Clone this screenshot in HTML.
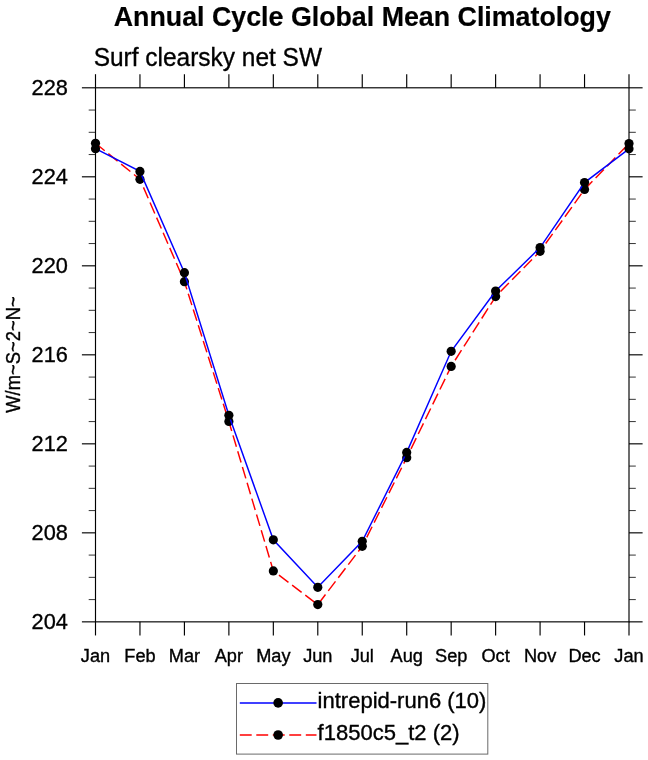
<!DOCTYPE html>
<html><head><meta charset="utf-8"><title>Annual Cycle Global Mean Climatology</title>
<style>html,body{margin:0;padding:0;background:#fff;}body{width:648px;height:760px;overflow:hidden;}svg{display:block;will-change:transform;}text{font-family:"Liberation Sans",sans-serif;fill:#000;}</style></head><body>
<svg width="648" height="760" viewBox="0 0 648 760">
<rect x="0" y="0" width="648" height="760" fill="#ffffff"/>
<text transform="translate(362.30,25.80) scale(0.9570,1)" text-anchor="middle" font-size="28.00" font-weight="bold" stroke="#000" stroke-width="0.2">Annual Cycle Global Mean Climatology</text>
<text transform="translate(93.70,65.90) scale(0.9520,1)" text-anchor="start" font-size="25.70" stroke="#000" stroke-width="0.35">Surf clearsky net SW</text>
<text transform="translate(19.70,354.60) rotate(-90) scale(0.9380,1)" text-anchor="middle" font-size="19.60" stroke="#000" stroke-width="0.35">W/m~S~2~N~</text>
<polyline points="95.50,143.30 139.96,179.30 184.42,281.70 228.88,421.50 273.33,570.90 317.79,604.60 362.25,546.30 406.71,457.70 451.17,366.40 495.62,296.60 540.08,251.30 584.54,189.50 629.00,143.50" fill="none" stroke="#ff0000" stroke-width="1.45" stroke-dasharray="11.9 4.6"/>
<circle cx="95.50" cy="143.30" r="4.6" fill="#000"/>
<circle cx="139.96" cy="179.30" r="4.6" fill="#000"/>
<circle cx="184.42" cy="281.70" r="4.6" fill="#000"/>
<circle cx="228.88" cy="421.50" r="4.6" fill="#000"/>
<circle cx="273.33" cy="570.90" r="4.6" fill="#000"/>
<circle cx="317.79" cy="604.60" r="4.6" fill="#000"/>
<circle cx="362.25" cy="546.30" r="4.6" fill="#000"/>
<circle cx="406.71" cy="457.70" r="4.6" fill="#000"/>
<circle cx="451.17" cy="366.40" r="4.6" fill="#000"/>
<circle cx="495.62" cy="296.60" r="4.6" fill="#000"/>
<circle cx="540.08" cy="251.30" r="4.6" fill="#000"/>
<circle cx="584.54" cy="189.50" r="4.6" fill="#000"/>
<circle cx="629.00" cy="143.50" r="4.6" fill="#000"/>
<polyline points="95.50,148.70 139.96,171.40 184.42,272.70 228.88,415.30 273.33,539.80 317.79,587.30 362.25,541.30 406.71,452.40 451.17,351.30 495.62,291.10 540.08,247.60 584.54,182.60 629.00,148.80" fill="none" stroke="#0000ff" stroke-width="1.45"/>
<circle cx="95.50" cy="148.70" r="4.6" fill="#000"/>
<circle cx="139.96" cy="171.40" r="4.6" fill="#000"/>
<circle cx="184.42" cy="272.70" r="4.6" fill="#000"/>
<circle cx="228.88" cy="415.30" r="4.6" fill="#000"/>
<circle cx="273.33" cy="539.80" r="4.6" fill="#000"/>
<circle cx="317.79" cy="587.30" r="4.6" fill="#000"/>
<circle cx="362.25" cy="541.30" r="4.6" fill="#000"/>
<circle cx="406.71" cy="452.40" r="4.6" fill="#000"/>
<circle cx="451.17" cy="351.30" r="4.6" fill="#000"/>
<circle cx="495.62" cy="291.10" r="4.6" fill="#000"/>
<circle cx="540.08" cy="247.60" r="4.6" fill="#000"/>
<circle cx="584.54" cy="182.60" r="4.6" fill="#000"/>
<circle cx="629.00" cy="148.80" r="4.6" fill="#000"/>
<g stroke="#000" stroke-width="1.15" fill="none">
<rect x="95.50" y="87.80" width="533.50" height="534.05"/>
<line x1="95.50" y1="87.80" x2="95.50" y2="74.20"/>
<line x1="95.50" y1="621.85" x2="95.50" y2="635.45"/>
<line x1="139.96" y1="87.80" x2="139.96" y2="74.20"/>
<line x1="139.96" y1="621.85" x2="139.96" y2="635.45"/>
<line x1="184.42" y1="87.80" x2="184.42" y2="74.20"/>
<line x1="184.42" y1="621.85" x2="184.42" y2="635.45"/>
<line x1="228.88" y1="87.80" x2="228.88" y2="74.20"/>
<line x1="228.88" y1="621.85" x2="228.88" y2="635.45"/>
<line x1="273.33" y1="87.80" x2="273.33" y2="74.20"/>
<line x1="273.33" y1="621.85" x2="273.33" y2="635.45"/>
<line x1="317.79" y1="87.80" x2="317.79" y2="74.20"/>
<line x1="317.79" y1="621.85" x2="317.79" y2="635.45"/>
<line x1="362.25" y1="87.80" x2="362.25" y2="74.20"/>
<line x1="362.25" y1="621.85" x2="362.25" y2="635.45"/>
<line x1="406.71" y1="87.80" x2="406.71" y2="74.20"/>
<line x1="406.71" y1="621.85" x2="406.71" y2="635.45"/>
<line x1="451.17" y1="87.80" x2="451.17" y2="74.20"/>
<line x1="451.17" y1="621.85" x2="451.17" y2="635.45"/>
<line x1="495.62" y1="87.80" x2="495.62" y2="74.20"/>
<line x1="495.62" y1="621.85" x2="495.62" y2="635.45"/>
<line x1="540.08" y1="87.80" x2="540.08" y2="74.20"/>
<line x1="540.08" y1="621.85" x2="540.08" y2="635.45"/>
<line x1="584.54" y1="87.80" x2="584.54" y2="74.20"/>
<line x1="584.54" y1="621.85" x2="584.54" y2="635.45"/>
<line x1="629.00" y1="87.80" x2="629.00" y2="74.20"/>
<line x1="629.00" y1="621.85" x2="629.00" y2="635.45"/>
<line x1="95.50" y1="621.85" x2="81.90" y2="621.85"/>
<line x1="629.00" y1="621.85" x2="642.60" y2="621.85"/>
<line x1="95.50" y1="532.84" x2="81.90" y2="532.84"/>
<line x1="629.00" y1="532.84" x2="642.60" y2="532.84"/>
<line x1="95.50" y1="443.83" x2="81.90" y2="443.83"/>
<line x1="629.00" y1="443.83" x2="642.60" y2="443.83"/>
<line x1="95.50" y1="354.82" x2="81.90" y2="354.82"/>
<line x1="629.00" y1="354.82" x2="642.60" y2="354.82"/>
<line x1="95.50" y1="265.82" x2="81.90" y2="265.82"/>
<line x1="629.00" y1="265.82" x2="642.60" y2="265.82"/>
<line x1="95.50" y1="176.81" x2="81.90" y2="176.81"/>
<line x1="629.00" y1="176.81" x2="642.60" y2="176.81"/>
<line x1="95.50" y1="87.80" x2="81.90" y2="87.80"/>
<line x1="629.00" y1="87.80" x2="642.60" y2="87.80"/>
</g>
<g stroke="#000" stroke-width="0.8" fill="none">
<line x1="95.50" y1="599.60" x2="88.70" y2="599.60"/>
<line x1="629.00" y1="599.60" x2="635.80" y2="599.60"/>
<line x1="95.50" y1="577.35" x2="88.70" y2="577.35"/>
<line x1="629.00" y1="577.35" x2="635.80" y2="577.35"/>
<line x1="95.50" y1="555.09" x2="88.70" y2="555.09"/>
<line x1="629.00" y1="555.09" x2="635.80" y2="555.09"/>
<line x1="95.50" y1="510.59" x2="88.70" y2="510.59"/>
<line x1="629.00" y1="510.59" x2="635.80" y2="510.59"/>
<line x1="95.50" y1="488.34" x2="88.70" y2="488.34"/>
<line x1="629.00" y1="488.34" x2="635.80" y2="488.34"/>
<line x1="95.50" y1="466.09" x2="88.70" y2="466.09"/>
<line x1="629.00" y1="466.09" x2="635.80" y2="466.09"/>
<line x1="95.50" y1="421.58" x2="88.70" y2="421.58"/>
<line x1="629.00" y1="421.58" x2="635.80" y2="421.58"/>
<line x1="95.50" y1="399.33" x2="88.70" y2="399.33"/>
<line x1="629.00" y1="399.33" x2="635.80" y2="399.33"/>
<line x1="95.50" y1="377.08" x2="88.70" y2="377.08"/>
<line x1="629.00" y1="377.08" x2="635.80" y2="377.08"/>
<line x1="95.50" y1="332.57" x2="88.70" y2="332.57"/>
<line x1="629.00" y1="332.57" x2="635.80" y2="332.57"/>
<line x1="95.50" y1="310.32" x2="88.70" y2="310.32"/>
<line x1="629.00" y1="310.32" x2="635.80" y2="310.32"/>
<line x1="95.50" y1="288.07" x2="88.70" y2="288.07"/>
<line x1="629.00" y1="288.07" x2="635.80" y2="288.07"/>
<line x1="95.50" y1="243.56" x2="88.70" y2="243.56"/>
<line x1="629.00" y1="243.56" x2="635.80" y2="243.56"/>
<line x1="95.50" y1="221.31" x2="88.70" y2="221.31"/>
<line x1="629.00" y1="221.31" x2="635.80" y2="221.31"/>
<line x1="95.50" y1="199.06" x2="88.70" y2="199.06"/>
<line x1="629.00" y1="199.06" x2="635.80" y2="199.06"/>
<line x1="95.50" y1="154.56" x2="88.70" y2="154.56"/>
<line x1="629.00" y1="154.56" x2="635.80" y2="154.56"/>
<line x1="95.50" y1="132.30" x2="88.70" y2="132.30"/>
<line x1="629.00" y1="132.30" x2="635.80" y2="132.30"/>
<line x1="95.50" y1="110.05" x2="88.70" y2="110.05"/>
<line x1="629.00" y1="110.05" x2="635.80" y2="110.05"/>
</g>
<text transform="translate(67.90,629.15) scale(0.9550,1)" text-anchor="end" font-size="22.80" stroke="#000" stroke-width="0.35">204</text>
<text transform="translate(67.90,540.14) scale(0.9550,1)" text-anchor="end" font-size="22.80" stroke="#000" stroke-width="0.35">208</text>
<text transform="translate(67.90,451.13) scale(0.9550,1)" text-anchor="end" font-size="22.80" stroke="#000" stroke-width="0.35">212</text>
<text transform="translate(67.90,362.12) scale(0.9550,1)" text-anchor="end" font-size="22.80" stroke="#000" stroke-width="0.35">216</text>
<text transform="translate(67.90,273.12) scale(0.9550,1)" text-anchor="end" font-size="22.80" stroke="#000" stroke-width="0.35">220</text>
<text transform="translate(67.90,184.11) scale(0.9550,1)" text-anchor="end" font-size="22.80" stroke="#000" stroke-width="0.35">224</text>
<text transform="translate(67.90,95.10) scale(0.9550,1)" text-anchor="end" font-size="22.80" stroke="#000" stroke-width="0.35">228</text>
<text transform="translate(95.50,661.90) scale(1.0100,1)" text-anchor="middle" font-size="18.00" stroke="#000" stroke-width="0.35">Jan</text>
<text transform="translate(139.96,661.90) scale(1.0100,1)" text-anchor="middle" font-size="18.00" stroke="#000" stroke-width="0.35">Feb</text>
<text transform="translate(184.42,661.90) scale(1.0100,1)" text-anchor="middle" font-size="18.00" stroke="#000" stroke-width="0.35">Mar</text>
<text transform="translate(228.88,661.90) scale(1.0100,1)" text-anchor="middle" font-size="18.00" stroke="#000" stroke-width="0.35">Apr</text>
<text transform="translate(273.33,661.90) scale(1.0100,1)" text-anchor="middle" font-size="18.00" stroke="#000" stroke-width="0.35">May</text>
<text transform="translate(317.79,661.90) scale(1.0100,1)" text-anchor="middle" font-size="18.00" stroke="#000" stroke-width="0.35">Jun</text>
<text transform="translate(362.25,661.90) scale(1.0100,1)" text-anchor="middle" font-size="18.00" stroke="#000" stroke-width="0.35">Jul</text>
<text transform="translate(406.71,661.90) scale(1.0100,1)" text-anchor="middle" font-size="18.00" stroke="#000" stroke-width="0.35">Aug</text>
<text transform="translate(451.17,661.90) scale(1.0100,1)" text-anchor="middle" font-size="18.00" stroke="#000" stroke-width="0.35">Sep</text>
<text transform="translate(495.62,661.90) scale(1.0100,1)" text-anchor="middle" font-size="18.00" stroke="#000" stroke-width="0.35">Oct</text>
<text transform="translate(540.08,661.90) scale(1.0100,1)" text-anchor="middle" font-size="18.00" stroke="#000" stroke-width="0.35">Nov</text>
<text transform="translate(584.54,661.90) scale(1.0100,1)" text-anchor="middle" font-size="18.00" stroke="#000" stroke-width="0.35">Dec</text>
<text transform="translate(629.00,661.90) scale(1.0100,1)" text-anchor="middle" font-size="18.00" stroke="#000" stroke-width="0.35">Jan</text>
<rect x="236.5" y="683.5" width="251.3" height="70.6" fill="#fff" stroke="#6a6a6a" stroke-width="1"/>
<line x1="239.8" y1="702.95" x2="316.5" y2="702.95" stroke="#0000ff" stroke-width="1.45"/>
<circle cx="278.15" cy="702.9" r="4.8" fill="#000"/>
<line x1="239.8" y1="734.95" x2="316.5" y2="734.95" stroke="#ff0000" stroke-width="1.45" stroke-dasharray="11.9 4.6"/>
<circle cx="278.15" cy="735.0" r="4.8" fill="#000"/>
<text transform="translate(317.60,708.30) scale(1.0200,1)" text-anchor="start" font-size="21.60" stroke="#000" stroke-width="0.35">intrepid-run6 (10)</text>
<text transform="translate(317.60,740.10) scale(1.0200,1)" text-anchor="start" font-size="21.60" stroke="#000" stroke-width="0.35">f1850c5_t2 (2)</text>
</svg></body></html>
